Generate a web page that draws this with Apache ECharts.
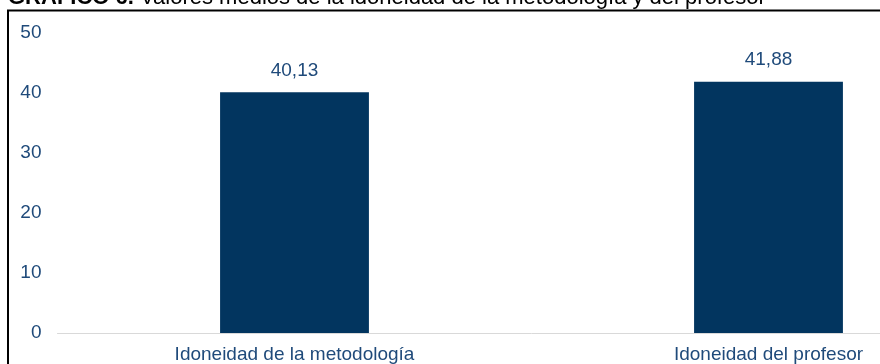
<!DOCTYPE html>
<html>
<head>
<meta charset="utf-8">
<script src="https://cdn.jsdelivr.net/npm/echarts@6/dist/echarts.min.js"></script>
<style>
html,body{margin:0;padding:0;background:#fff;overflow:hidden;width:880px;height:364px;}
#chart{width:1010px;height:364px;}
</style>
</head>
<body>
<div id="chart"></div>
<script>
var titleBold = 'GRÁFICO 6.';
var titleRest = ' Valores medios de la idoneidad de la metodología y del profesor';
var categories = ['Idoneidad de la metodología', 'Idoneidad del profesor'];
var values = [40.13, 41.88];
var yMin = 0, yMax = 50, yStep = 10;

var textColor = '#1F4A7A';
var barColor = '#02355F';
var font = 'Liberation Sans, Arial, sans-serif';

var chart = echarts.init(document.getElementById('chart'), null, {renderer: 'canvas'});
chart.setOption({
  animation: false,
  backgroundColor: '#fff',
  grid: {left: 57.5, right: 4.5, top: 33, bottom: 31, containLabel: false},
  xAxis: {
    type: 'category',
    data: categories,
    axisLine: {show: true, lineStyle: {color: '#D9D9D9', width: 1}},
    axisTick: {show: false},
    axisLabel: {color: textColor, fontSize: 19, fontFamily: font, margin: 12, interval: 0}
  },
  yAxis: {
    type: 'value',
    min: yMin, max: yMax, interval: yStep,
    axisLine: {show: false},
    axisTick: {show: false},
    splitLine: {show: false},
    axisLabel: {color: textColor, fontSize: 19, fontFamily: font, margin: 16}
  },
  series: [{
    type: 'bar',
    data: values,
    barWidth: '31.4%',
    itemStyle: {color: barColor},
    label: {
      show: true, position: 'top', distance: 12,
      color: textColor, fontSize: 19, fontFamily: font,
      formatter: function (p) { return p.value.toFixed(2).replace('.', ','); }
    }
  }],
  graphic: [
    {
      type: 'text', left: 8, top: -13, silent: true,
      style: {
        text: '{b|' + titleBold + '}{r|' + titleRest + '}',
        rich: {
          b: {fontWeight: 'bold', fontSize: 22, fontFamily: font, fill: '#000'},
          r: {fontSize: 22, fontFamily: font, fill: '#000'}
        }
      }
    },
    {
      type: 'rect', silent: true,
      shape: {x: 8, y: 10.5, width: 1100, height: 500},
      style: {fill: 'none', stroke: '#000', lineWidth: 2}
    }
  ]
});
</script>
</body>
</html>
